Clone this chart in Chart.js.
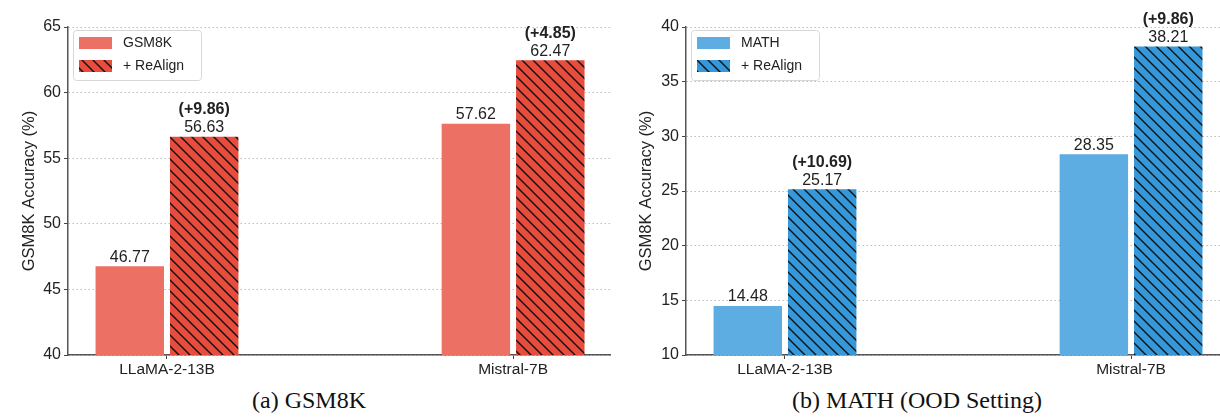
<!DOCTYPE html>
<html lang="en">
<head>
  <meta charset="UTF-8">
  <title>ReAlign GSM8K / MATH</title>
  <script src="https://cdn.jsdelivr.net/npm/chart.js"></script>
  <style>
    body { margin: 0; background: #fff; width: 1220px; height: 417px; position: relative; overflow: hidden; }
    .box { position: absolute; top: 0; height: 385px; }
    .caption { position: absolute; top: 388px; font-family: "Liberation Serif", "DejaVu Serif", serif; font-size: 24px; line-height: 1; color: #111; white-space: nowrap; }
  </style>
</head>
<body>
  <div class="box" style="left:0;width:615px"><canvas id="gsmChart"></canvas></div>
  <div class="box" style="left:615px;width:605px"><canvas id="mathChart"></canvas></div>
  <div class="caption" style="left:252px">(a) GSM8K</div>
  <div class="caption" style="left:792px">(b) MATH (OOD Setting)</div>

  <script>
    // data
    const models = ['LLaMA-2-13B', 'Mistral-7B'];
    const gsmBase = [46.77, 57.62];
    const gsmRealign = [56.63, 62.47];
    const gsmGain = ['(+9.86)', '(+4.85)'];
    const mathBase = [14.48, 28.35];
    const mathRealign = [25.17, 38.21];
    const mathGain = ['(+10.69)', '(+9.86)'];
    const gsmTicks = [40, 45, 50, 55, 60, 65];
    const mathTicks = [10, 15, 20, 25, 30, 35, 40];

    const FONT = '"Liberation Sans", Arial, sans-serif';

    function hatch(base) {
      const c = document.createElement('canvas');
      const s = 11;
      c.width = s; c.height = s;
      const g = c.getContext('2d');
      g.fillStyle = base;
      g.fillRect(0, 0, s, s);
      g.strokeStyle = '#111';
      g.lineWidth = 1.4;
      g.beginPath();
      g.moveTo(-2, -2); g.lineTo(s + 2, s + 2);
      g.moveTo(-2 - s, -2); g.lineTo(2, s + 2);
      g.moveTo(s - 2, -2); g.lineTo(2 * s + 2, s + 2);
      g.stroke();
      return g.createPattern(c, 'repeat');
    }

    // value labels + gains above bars
    const labelPlugin = {
      id: 'barLabels',
      afterDatasetsDraw(chart) {
        const ctx = chart.ctx;
        const gains = chart.options.plugins.barLabels.gains;
        ctx.save();
        ctx.textAlign = 'center';
        ctx.textBaseline = 'bottom';
        chart.data.datasets.forEach((ds, di) => {
          chart.getDatasetMeta(di).data.forEach((bar, i) => {
            ctx.fillStyle = '#222';
            ctx.font = '16px ' + FONT;
            ctx.fillText(ds.data[i].y.toFixed(2), bar.x, bar.y - 1);
            if (di === 1) {
              ctx.font = 'bold 16px ' + FONT;
              ctx.fillText(gains[i], bar.x, bar.y - 19);
            }
          });
        });
        ctx.restore();
      }
    };

    // legend box in the upper left corner of the plot
    const legendPlugin = {
      id: 'boxLegend',
      afterDraw(chart) {
        const ctx = chart.ctx;
        const a = chart.chartArea;
        const x = a.left + 5, y = a.top + 3, w = 128, h = 50;
        ctx.save();
        ctx.fillStyle = 'rgba(255,255,255,0.85)';
        ctx.strokeStyle = '#d8d8d8';
        ctx.lineWidth = 1;
        ctx.beginPath();
        ctx.roundRect(x + 0.5, y + 0.5, w, h, 3);
        ctx.fill();
        ctx.stroke();
        chart.data.datasets.forEach((ds, di) => {
          const ry = y + 7 + di * 23;
          ctx.fillStyle = ds.backgroundColor;
          ctx.fillRect(x + 6, ry, 33, 12);
          ctx.fillStyle = '#222';
          ctx.font = '14px ' + FONT;
          ctx.textBaseline = 'middle';
          ctx.textAlign = 'left';
          ctx.fillText(ds.label, x + 50, ry + 6);
        });
        ctx.restore();
      }
    };

    function makeChart(id, base, realign, gains, ticks, names, colors, yAxisW, xmax, titlePad) {
      return new Chart(document.getElementById(id), {
        type: 'bar',
        data: {
          datasets: [
            {
              label: names[0],
              data: base.map((v, i) => ({ x: i, y: v })),
              backgroundColor: colors[0],
              borderWidth: 0
            },
            {
              label: names[1],
              data: realign.map((v, i) => ({ x: i, y: v })),
              backgroundColor: hatch(colors[1]),
              borderWidth: 0
            }
          ]
        },
        options: {
          responsive: true,
          maintainAspectRatio: false,
          animation: false,
          categoryPercentage: 0.43,
          barPercentage: 0.92,
          layout: { padding: { top: 27, right: xmax > 1.27 ? 5 : 0, bottom: 0, left: 0 } },
          plugins: {
            legend: { display: false },
            tooltip: { enabled: false },
            barLabels: { gains: gains }
          },
          scales: {
            x: {
              type: 'linear',
              offset: false,
              min: -0.286,
              max: xmax,
              afterBuildTicks: s => { s.ticks = models.map((m, i) => ({ value: i })); },
              afterFit: s => { s.height = 30; },
              grid: { offset: false, drawOnChartArea: false, tickLength: 4, tickColor: '#444' },
              border: { display: true, color: '#555', width: 1.5 },
              ticks: {
                callback: (v) => models[v],
                color: '#222',
                font: { family: FONT, size: 15.5 },
                maxRotation: 0,
                padding: 1
              }
            },
            y: {
              min: ticks[0],
              max: ticks[ticks.length - 1],
              afterBuildTicks: s => { s.ticks = ticks.map(v => ({ value: v })); },
              afterFit: s => { s.width = yAxisW; },
              grid: {
                color: '#bdbdbd',
                lineWidth: 1,
                tickLength: 4,
                tickColor: '#444'
              },
              border: { display: true, color: '#555', width: 1.5, dash: [1.5, 2.5] },
              ticks: {
                color: '#222',
                font: { family: FONT, size: 16 },
                padding: 3
              },
              title: {
                display: true,
                text: 'GSM8K Accuracy (%)',
                color: '#222',
                font: { family: FONT, size: 16.5 },
                padding: { top: titlePad, bottom: 0 }
              }
            }
          }
        },
        plugins: [labelPlugin, legendPlugin]
      });
    }

    makeChart('gsmChart', gsmBase, gsmRealign, gsmGain, gsmTicks,
      ['GSM8K', '+ ReAlign'], ['#ec7063', '#e74c3c'], 68, 1.28, 20);
    makeChart('mathChart', mathBase, mathRealign, mathGain, mathTicks,
      ['MATH', '+ ReAlign'], ['#5dade2', '#3498db'], 71, 1.257, 22);
  </script>
</body>
</html>
